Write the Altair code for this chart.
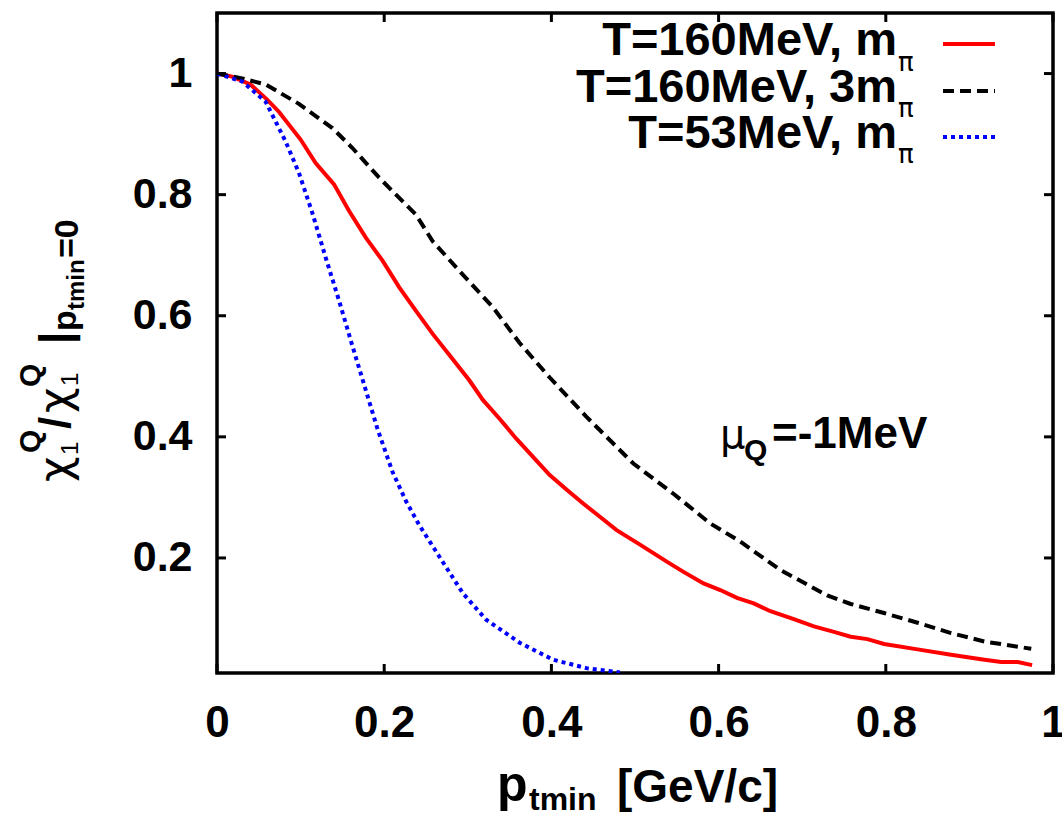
import altair as alt
import pandas as pd

# ---------------- data ----------------
red_x = [0, 0.018, 0.04, 0.06, 0.074, 0.100, 0.118, 0.140, 0.158, 0.178, 0.198, 0.218, 0.238,
         0.258, 0.282, 0.302, 0.318, 0.338, 0.358, 0.378, 0.398, 0.418, 0.438, 0.458, 0.478,
         0.506, 0.538, 0.558, 0.582, 0.602, 0.622, 0.642, 0.662, 0.690, 0.714, 0.738, 0.758,
         0.778, 0.798, 0.838, 0.878, 0.918, 0.938, 0.958, 0.975]
red_y = [1.0, 0.995, 0.982, 0.957, 0.937, 0.891, 0.852, 0.817, 0.773, 0.729, 0.691, 0.647, 0.608,
         0.570, 0.528, 0.493, 0.461, 0.430, 0.397, 0.367, 0.337, 0.313, 0.290, 0.268, 0.246,
         0.222, 0.194, 0.177, 0.158, 0.147, 0.134, 0.125, 0.112, 0.099, 0.087, 0.078, 0.070,
         0.066, 0.058, 0.049, 0.040, 0.032, 0.028, 0.028, 0.023]

black_x = [0, 0.030, 0.058, 0.098, 0.138, 0.162, 0.194, 0.238, 0.258, 0.290, 0.330, 0.362,
           0.398, 0.442, 0.498, 0.546, 0.590, 0.626, 0.674, 0.730, 0.758, 0.798, 0.838, 0.878,
           0.918, 0.974]
black_y = [1.0, 0.992, 0.982, 0.950, 0.910, 0.877, 0.828, 0.767, 0.723, 0.674, 0.614, 0.555,
           0.498, 0.433, 0.356, 0.306, 0.257, 0.227, 0.180, 0.138, 0.124, 0.109, 0.093, 0.076,
           0.062, 0.050]

blue_x = [0, 0.030, 0.058, 0.074, 0.082, 0.098, 0.114, 0.130, 0.146, 0.162, 0.178, 0.192,
          0.210, 0.226, 0.242, 0.266, 0.294, 0.322, 0.362, 0.402, 0.442, 0.482]
blue_y = [1.0, 0.987, 0.954, 0.910, 0.888, 0.836, 0.770, 0.696, 0.625, 0.550, 0.477, 0.413,
          0.342, 0.294, 0.254, 0.202, 0.142, 0.098, 0.060, 0.032, 0.018, 0.011]

series_labels = ["T=160MeV, m", "T=160MeV, 3m", "T=53MeV, m"]
series_colors = ["#ff0000", "#000000", "#0000ff"]

x_ticks = [0, 0.2, 0.4, 0.6, 0.8, 1.0]
y_ticks = [0.2, 0.4, 0.6, 0.8, 1.0]

# ---------------- layout ----------------
W, H = 836, 660
FONT = "Liberation Sans"
GREEK = "DejaVu Sans"
xs = alt.Scale(domain=[0, 1], nice=False, zero=False)
ys = alt.Scale(domain=[0.01, 1.1], nice=False, zero=False)
dummy = pd.DataFrame({"a": [0]})

ax_common = dict(ticks=False, domain=False, grid=False, title=None, labelFont=FONT,
                 labelFontWeight="bold", labelColor="black", format="~g", labelFlush=False)
X_AX = alt.Axis(values=x_ticks, labelFontSize=44, labelPadding=28, **ax_common)
Y_AX = alt.Axis(values=y_ticks, labelFontSize=43, labelPadding=25, **ax_common)


def line(xv, yv, color, dash=None):
    df = pd.DataFrame({"x": xv, "y": yv})
    kw = dict(color=color, strokeWidth=4, clip=True)
    if dash:
        kw["strokeDash"] = dash
    return alt.Chart(df).mark_line(**kw).encode(
        x=alt.X("x:Q", scale=xs, axis=X_AX),
        y=alt.Y("y:Q", scale=ys, axis=Y_AX),
    )


def txt(s, x, y, size, weight="bold", align="left", angle=None, font=FONT):
    kw = dict(text=s, fontSize=size, font=font, fontWeight=weight, align=align,
              baseline="alphabetic", color="black")
    if angle is not None:
        kw["angle"] = angle
    return alt.Chart(dummy).mark_text(**kw).encode(x=alt.value(x), y=alt.value(y))


def sample(y, color, dash=None):
    kw = dict(color=color, strokeWidth=4)
    if dash:
        kw["strokeDash"] = dash
    return alt.Chart(dummy).mark_rule(**kw).encode(
        x=alt.value(726), x2=alt.value(778), y=alt.value(y))


xt = pd.DataFrame({"x": x_ticks})
yt = pd.DataFrame({"y": y_ticks})

TL = 9
tick_style = dict(color="black", strokeWidth=3)
xb = alt.Chart(xt).mark_rule(**tick_style).encode(
    x=alt.X("x:Q", scale=xs, axis=X_AX), y=alt.value(H), y2=alt.value(H - TL))
xtop = alt.Chart(xt).mark_rule(**tick_style).encode(
    x=alt.X("x:Q", scale=xs, axis=X_AX), y=alt.value(0), y2=alt.value(TL))
yl = alt.Chart(yt).mark_rule(**tick_style).encode(
    y=alt.Y("y:Q", scale=ys, axis=Y_AX), x=alt.value(0), x2=alt.value(TL))
yr = alt.Chart(yt).mark_rule(**tick_style).encode(
    y=alt.Y("y:Q", scale=ys, axis=Y_AX), x=alt.value(W), x2=alt.value(W - TL))

lines = [
    line(red_x, red_y, series_colors[0]),
    line(black_x, black_y, series_colors[1], [11, 6]),
    line(blue_x, blue_y, series_colors[2], [4, 4]),
]

# legend
legend = [
    txt(series_labels[0], 680, 42, 47, align="right"),
    txt("π", 681, 58, 26, weight="normal", font=GREEK),
    txt(series_labels[1], 680, 89, 47, align="right"),
    txt("π", 681, 104, 26, weight="normal", font=GREEK),
    txt(series_labels[2], 680, 135, 47, align="right"),
    txt("π", 681, 150, 26, weight="normal", font=GREEK),
    sample(31, series_colors[0]),
    sample(78, series_colors[1], [11, 6]),
    sample(124, series_colors[2], [4, 4]),
]

# mu_Q annotation
mu = [
    txt("μ", 503, 435, 40, weight="normal", font=GREEK),
    txt("Q", 527, 447, 30),
    txt("=-1MeV", 555, 435, 44),
]

# x-axis title
xtitle = [
    txt("p", 280, 788, 50),
    txt("tmin", 312, 797, 32),
    txt("[GeV/c]", 400, 789, 46),
]

# y-axis title (rotated, reading upward)
A = 270
ytitle = [
    txt("χ", -147, 469, 44, weight="normal", angle=A, font=GREEK),
    txt("1", -139, 442, 24, weight="normal", angle=A),
    txt("Q", -177, 440, 30, angle=A),
    txt("/", -147, 416, 44, angle=A),
    txt("χ", -147, 400, 44, weight="normal", angle=A, font=GREEK),
    txt("1", -139, 373, 24, weight="normal", angle=A),
    txt("Q", -177, 374, 30, angle=A),
    txt("|", -147, 331, 44, angle=A),
    txt("p", -141, 318, 34, angle=A),
    txt("tmin", -133, 297, 24, angle=A),
    txt("=0", -139, 245, 34, angle=A),
]

chart = alt.layer(
    *lines, xb, xtop, yl, yr, *legend, *mu, *xtitle, *ytitle
).properties(
    width=W, height=H,
    padding={"left": 217, "top": 13, "right": 9, "bottom": 140},
    autosize=alt.AutoSizeParams(type="none"),
    background="white",
).configure_view(stroke="black", strokeWidth=3.5)

chart.save("out.html", embed_options={"renderer": "svg", "actions": False})
